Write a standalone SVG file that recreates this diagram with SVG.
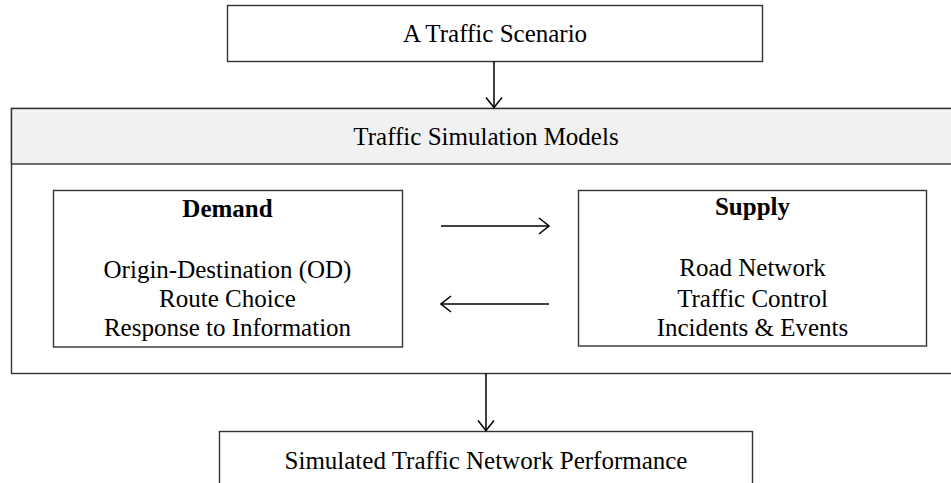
<svg xmlns="http://www.w3.org/2000/svg" width="951" height="483" viewBox="0 0 951 483">
<style>
.box{fill:#fff;stroke:#333;stroke-width:1.4}
.hdr{fill:#f1f1f1;stroke:#333;stroke-width:1.4}
.t{font-family:"Liberation Serif","Times New Roman",serif;font-size:25px;fill:#000;text-anchor:middle}
.b{font-weight:bold}
.c{fill:none;stroke:#000;stroke-width:1.5}
</style>
<defs>
<marker id="ah" viewBox="0 0 12 18" refX="11" refY="9" markerWidth="12" markerHeight="18" markerUnits="userSpaceOnUse" orient="auto">
<path d="M1,1 L11,9 L1,17" fill="none" stroke="#000" stroke-width="1.5"/>
</marker>
</defs>
<rect width="951" height="483" fill="#fff"/>
<g id="scenario">
<rect class="box" x="227.5" y="5.5" width="535" height="56"/>
<text class="t" x="495" y="42">A Traffic Scenario</text>
</g>
<g id="models">
<rect class="box" x="11.5" y="108.5" width="960" height="265"/>
<rect class="hdr" x="11.5" y="108.5" width="960" height="55.5"/>
<text class="t" x="486" y="145">Traffic Simulation Models</text>
</g>
<g id="demand">
<rect class="box" x="53.5" y="190.5" width="349" height="156.5"/>
<text class="t b" x="227.5" y="216.5">Demand</text>
<text class="t" x="227.5" y="277.5">Origin-Destination (OD)</text>
<text class="t" x="227.5" y="306.5">Route Choice</text>
<text class="t" x="227.5" y="336">Response to Information</text>
</g>
<g id="supply">
<rect class="box" x="578.5" y="190.5" width="348" height="155.5"/>
<text class="t b" x="752.5" y="215">Supply</text>
<text class="t" x="752.5" y="275.5">Road Network</text>
<text class="t" x="752.5" y="306.5">Traffic Control</text>
<text class="t" x="752.5" y="335.5">Incidents &amp; Events</text>
</g>
<g id="performance">
<rect class="box" x="219.5" y="431.5" width="533" height="56"/>
<text class="t" x="486" y="469">Simulated Traffic Network Performance</text>
</g>
<g id="connectors">
<line class="c" x1="494" y1="61.5" x2="494" y2="107.5" marker-end="url(#ah)"/>
<line class="c" x1="441" y1="226" x2="549" y2="226" marker-end="url(#ah)"/>
<line class="c" x1="549" y1="304" x2="441" y2="304" marker-end="url(#ah)"/>
<line class="c" x1="486" y1="373.5" x2="486" y2="430.5" marker-end="url(#ah)"/>
</g>
</svg>
